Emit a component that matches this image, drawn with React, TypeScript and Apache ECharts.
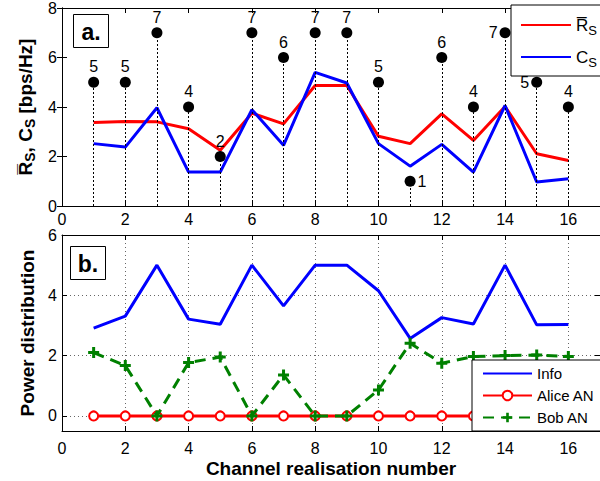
import React, { useEffect, useRef } from "react";
import * as echarts from "echarts";

const channels = [1, 2, 3, 4, 5, 6, 7, 8, 9, 10, 11, 12, 13, 14, 15, 16];
const rsValues = [3.37, 3.41, 3.4, 3.12, 2.25, 3.75, 3.32, 4.87, 4.87, 2.82, 2.52, 3.72, 2.65, 4.02, 2.11, 1.84];
const csValues = [2.52, 2.38, 3.97, 1.37, 1.37, 3.89, 2.45, 5.4, 4.97, 2.52, 1.61, 2.49, 1.37, 4.06, 0.97, 1.1];
const dotValues = [5, 5, 7, 4, 2, 7, 6, 7, 7, 5, 1, 6, 4, 7, 5, 4];
const infoValues = [2.91, 3.31, 5.0, 3.21, 3.04, 5.0, 3.65, 5.0, 5.0, 4.15, 2.57, 3.26, 3.05, 5.0, 3.02, 3.03];
const aliceValues = [0, 0, 0, 0, 0, 0, 0, 0, 0, 0, 0, 0, 0, 0, 0, 0];
const bobValues = [2.1, 1.67, 0, 1.77, 1.95, 0, 1.36, 0, 0, 0.86, 2.41, 1.75, 1.97, 2.0, 2.02, 1.97];
const xTicks = [0, 2, 4, 6, 8, 10, 12, 14, 16];

const FONT = "'Liberation Sans', Arial, Helvetica, sans-serif";
const labelSide: Record<number, string> = { 11: "right", 14: "left", 15: "left" };
const PLUS = "path://M4,0H7V4H11V7H7V11H4V7H0V4H4Z";

const zip = (ys: number[]) => channels.map((x, i) => [x, ys[i]]);

export default function App() {
  const ref = useRef<HTMLDivElement>(null);
  useEffect(() => {
    if (!ref.current) return;
    const chart = echarts.init(ref.current, undefined, { renderer: "svg" });
    const tickFmt = (v: number) => (xTicks.indexOf(v) >= 0 ? String(v) : "");
    const baseX = (grid: number, pos: "top" | "bottom", labels: boolean, margin: number) => ({
      type: "value",
      gridIndex: grid,
      position: pos,
      min: 0,
      max: 17,
      interval: 2,
      axisLine: { show: true, onZero: false, lineStyle: { color: "#000", width: 1 } },
      axisTick: { show: true, inside: true, length: 5, lineStyle: { color: "#000" } },
      axisLabel: { show: labels, color: "#000", fontSize: 16, fontFamily: FONT, margin, formatter: tickFmt, showMaxLabel: false },
      splitLine: { show: false },
    });
    const option: any = {
      animation: false,
      textStyle: { fontFamily: FONT },
      grid: [
        { left: 62, top: 7, width: 538, height: 199 },
        { left: 62, top: 235, width: 538, height: 196 },
      ],
      xAxis: [
        baseX(0, "bottom", true, 5),
        baseX(0, "top", false, 5),
        {
          ...baseX(1, "bottom", true, 9),
          name: "Channel realisation number",
          nameLocation: "middle",
          nameGap: 28,
          nameTextStyle: { fontSize: 19, fontWeight: "bold", color: "#000", fontFamily: FONT },
          splitLine: { show: true, lineStyle: { color: "#666", type: [1, 3], width: 1 } },
        },
        baseX(1, "top", false, 5),
      ],
      yAxis: [
        {
          type: "value",
          gridIndex: 0,
          position: "left",
          min: 0,
          max: 8,
          interval: 2,
          axisLine: { show: true, lineStyle: { color: "#000" } },
          axisTick: { show: true, inside: true, length: 5, lineStyle: { color: "#000" } },
          axisLabel: { color: "#000", fontSize: 16, fontFamily: FONT, margin: 5 },
          splitLine: { show: false },
          name: "{m|R\u0305}{s|S}{m|, C}{s|S}{m| [bps/Hz]}",
          nameLocation: "middle",
          nameRotate: 90,
          nameGap: 22,
          nameTextStyle: {
            color: "#000",
            rich: {
              m: { fontSize: 19, fontWeight: "bold", fontFamily: FONT, lineHeight: 22, color: "#000" },
              s: { fontSize: 14, fontWeight: "bold", fontFamily: FONT, lineHeight: 12, padding: [10, 0, 0, 0], color: "#000" },
            },
          },
        },
        {
          type: "value",
          gridIndex: 0,
          position: "right",
          min: 0,
          max: 8,
          interval: 2,
          axisLine: { show: true, lineStyle: { color: "#000" } },
          axisTick: { show: true, inside: true, length: 5, lineStyle: { color: "#000" } },
          axisLabel: { show: false },
          splitLine: { show: false },
        },
        {
          type: "value",
          gridIndex: 1,
          position: "left",
          min: -0.5,
          max: 6,
          splitNumber: 3,
          axisLine: { show: true, onZero: false, lineStyle: { color: "#000" } },
          axisTick: { show: true, inside: true, length: 5, lineStyle: { color: "#000" } },
          axisLabel: {
            color: "#000",
            fontSize: 16,
            fontFamily: FONT,
            margin: 5,
            formatter: (v: number) => (Number.isInteger(v) ? String(v) : ""),
          },
          splitLine: { show: true, lineStyle: { color: "#666", type: [1, 3], width: 1 } },
          name: "Power distribution",
          nameLocation: "middle",
          nameRotate: 90,
          nameGap: 24,
          nameTextStyle: { fontSize: 19, fontWeight: "bold", color: "#000", fontFamily: FONT },
        },
        {
          type: "value",
          gridIndex: 1,
          position: "right",
          min: -0.5,
          max: 6,
          splitNumber: 3,
          axisLine: { show: true, onZero: false, lineStyle: { color: "#000" } },
          axisTick: { show: true, inside: true, length: 5, lineStyle: { color: "#000" } },
          axisLabel: { show: false },
          splitLine: { show: false },
        },
      ],
      legend: [
        {
          z: 20,
          data: [
            { name: "Rs", itemStyle: { opacity: 0 } },
            { name: "Cs", itemStyle: { opacity: 0 } },
          ],
          orient: "vertical",
          left: 511,
          top: 5,
          itemWidth: 50,
          itemHeight: 22,
          itemGap: 8,
          padding: [8, 6, 7, 9],
          backgroundColor: "#fff",
          borderColor: "#000",
          borderWidth: 1,
          borderRadius: 0,
          formatter: (n: string) => (n === "Rs" ? "{m|R\u0305}{s|S}" : "{m|C}{s|S}"),
          textStyle: {
            rich: {
              m: { fontSize: 17, fontFamily: FONT, lineHeight: 22, color: "#000" },
              s: { fontSize: 13, fontFamily: FONT, lineHeight: 11, padding: [11, 0, 0, 0], color: "#000" },
            },
          },
        },
        {
          z: 20,
          data: [
            { name: "Info", itemStyle: { opacity: 0 } },
            { name: "Alice AN" },
            { name: "Bob AN" },
          ],
          orient: "vertical",
          left: 472,
          top: 360,
          itemWidth: 49,
          itemHeight: 12,
          itemGap: 7,
          itemTextGap: 6,
          padding: [6, 6, 6, 10],
          backgroundColor: "#fff",
          borderColor: "#000",
          borderWidth: 1,
          borderRadius: 0,
          textStyle: { fontSize: 15, color: "#000", fontFamily: FONT },
        },
      ],
      graphic: [
        { type: "rect", shape: { x: 73.5, y: 14.5, width: 35, height: 33 }, style: { fill: "#fff", stroke: "#000", lineWidth: 1 }, z: 10 },
        { type: "text", x: 91, y: 31.5, style: { text: "a.", font: `bold 23px ${FONT}`, fill: "#000", align: "center", verticalAlign: "middle" }, z: 11 },
        { type: "rect", shape: { x: 70.5, y: 246.5, width: 35, height: 33 }, style: { fill: "#fff", stroke: "#000", lineWidth: 1 }, z: 10 },
        { type: "text", x: 88, y: 263.5, style: { text: "b.", font: `bold 23px ${FONT}`, fill: "#000", align: "center", verticalAlign: "middle" }, z: 11 },
      ],
      series: [
        {
          name: "Rs",
          type: "line",
          xAxisIndex: 0,
          yAxisIndex: 0,
          data: zip(rsValues),
          symbol: "none",
          color: "#ff0000",
          lineStyle: { color: "#ff0000", width: 3 },
          z: 3,
        },
        {
          name: "Cs",
          type: "line",
          xAxisIndex: 0,
          yAxisIndex: 0,
          data: zip(csValues),
          symbol: "none",
          color: "#0000ff",
          lineStyle: { color: "#0000ff", width: 3 },
          z: 4,
        },
        {
          name: "dots",
          type: "scatter",
          xAxisIndex: 0,
          yAxisIndex: 0,
          symbolSize: 11,
          itemStyle: { color: "#000", opacity: 1 },
          z: 5,
          data: channels.map((x, i) => ({
            value: [x, dotValues[i]],
            label: { position: labelSide[x] || "top" },
          })),
          label: {
            show: true,
            formatter: (p: any) => String(p.value[1]),
            fontSize: 16,
            color: "#000",
            opacity: 1,
            fontFamily: FONT,
            distance: 2,
          },
          markLine: {
            silent: true,
            symbol: ["none", "none"],
            label: { show: false },
            lineStyle: { color: "#000", type: [2, 2], width: 1, opacity: 1 },
            data: channels.map((x, i) => [{ coord: [x, 0] }, { coord: [x, dotValues[i]] }]),
          },
        },
        {
          name: "Info",
          type: "line",
          xAxisIndex: 2,
          yAxisIndex: 2,
          data: zip(infoValues),
          symbol: "none",
          color: "#0000ff",
          lineStyle: { color: "#0000ff", width: 3 },
          z: 3,
        },
        {
          name: "Alice AN",
          type: "line",
          xAxisIndex: 2,
          yAxisIndex: 2,
          data: zip(aliceValues),
          symbol: "emptyCircle",
          symbolSize: 9,
          color: "#ff0000",
          itemStyle: { color: "#ff0000", borderColor: "#ff0000", borderWidth: 2 },
          lineStyle: { color: "#ff0000", width: 3 },
          z: 4,
        },
        {
          name: "Bob AN",
          type: "line",
          xAxisIndex: 2,
          yAxisIndex: 2,
          data: zip(bobValues),
          symbol: PLUS,
          symbolSize: 11,
          color: "#008000",
          itemStyle: { color: "#008000" },
          lineStyle: { color: "#008000", width: 3, type: [11, 7] },
          z: 5,
        },
      ],
    };
    chart.setOption(option);
    return () => chart.dispose();
  }, []);
  return <div ref={ref} style={{ position: "absolute", left: 0, top: 0, width: 600, height: 481 }} />;
}
